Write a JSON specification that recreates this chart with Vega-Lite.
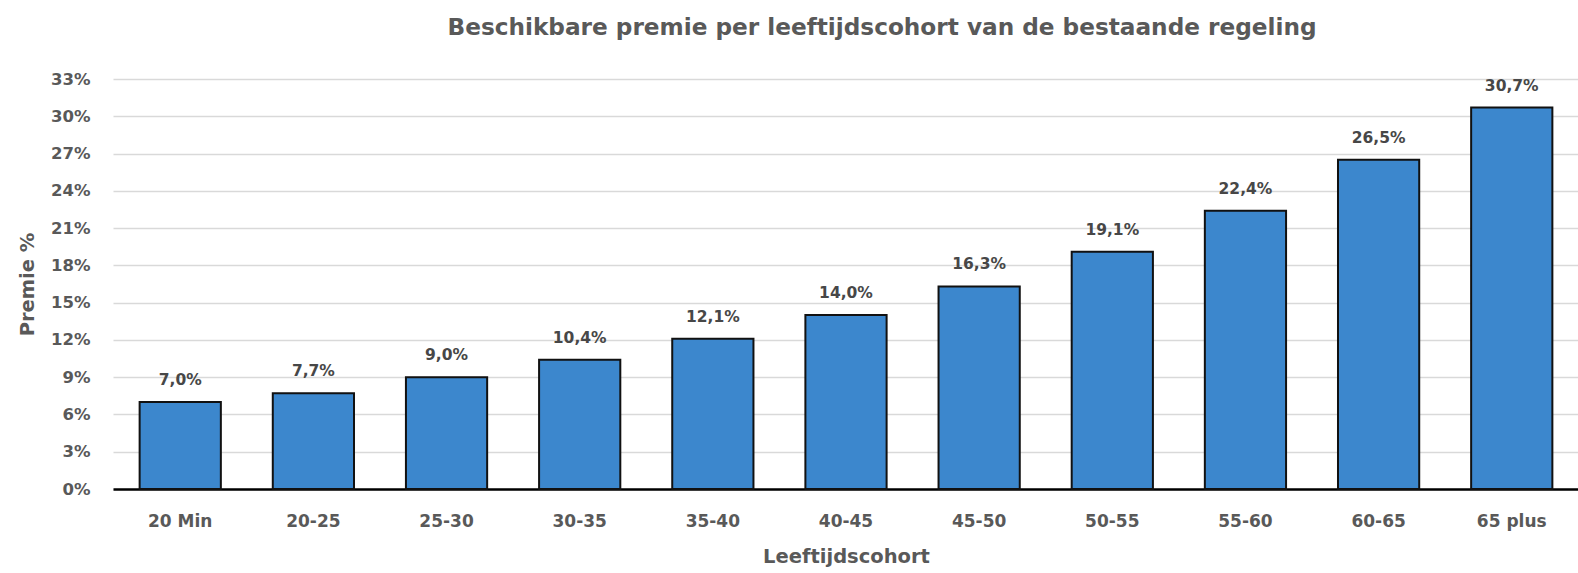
{
  "$schema": "https://vega.github.io/schema/vega-lite/v6.json",
  "autosize": "none",
  "width": 1466,
  "height": 410,
  "padding": {"left": 113, "top": 79, "right": 0, "bottom": 84},
  "background": "white",
  "config": {
    "locale": {"number": {"decimal": ",", "thousands": ".", "grouping": [3], "currency": ["€", ""]}},
    "view": {"stroke": null},
    "font": "DejaVu Sans"
  },
  "title": {
    "text": "Beschikbare premie per leeftijdscohort van de bestaande regeling",
    "font": "DejaVu Sans",
    "fontSize": 23.2,
    "fontWeight": "bold",
    "color": "#595959",
    "anchor": "middle",
    "dx": 36,
    "offset": 31
  },
  "data": {
    "values": [
      {"cohort": "20 Min", "premie": 0.070},
      {"cohort": "20-25", "premie": 0.077},
      {"cohort": "25-30", "premie": 0.090},
      {"cohort": "30-35", "premie": 0.104},
      {"cohort": "35-40", "premie": 0.121},
      {"cohort": "40-45", "premie": 0.140},
      {"cohort": "45-50", "premie": 0.163},
      {"cohort": "50-55", "premie": 0.191},
      {"cohort": "55-60", "premie": 0.224},
      {"cohort": "60-65", "premie": 0.265},
      {"cohort": "65 plus", "premie": 0.307}
    ]
  },
  "encoding": {
    "x": {
      "field": "cohort",
      "type": "nominal",
      "sort": null,
      "scale": {"paddingInner": 0.39, "paddingOuter": 0.2},
      "axis": {
        "title": "Leeftijdscohort",
        "titleFont": "DejaVu Sans",
        "titleFontSize": 19.5,
        "titleFontWeight": "bold",
        "titleColor": "#595959",
        "titlePadding": 18,
        "labelAngle": 0,
        "labelFont": "DejaVu Sans",
        "labelFontSize": 17,
        "labelFontWeight": "bold",
        "labelColor": "#595959",
        "labelPadding": 24,
        "ticks": false,
        "domainColor": "#000000",
        "domainWidth": 2.5,
        "grid": false
      }
    },
    "y": {
      "field": "premie",
      "type": "quantitative",
      "scale": {"domain": [0, 0.33], "nice": false},
      "axis": {
        "title": "Premie %",
        "titleFont": "DejaVu Sans",
        "titleFontSize": 19.5,
        "titleFontWeight": "bold",
        "titleColor": "#595959",
        "titlePadding": 13,
        "values": [0, 0.03, 0.06, 0.09, 0.12, 0.15, 0.18, 0.21, 0.24, 0.27, 0.30, 0.33],
        "format": ".0%",
        "labelFont": "DejaVu Sans",
        "labelFontSize": 16.5,
        "labelFontWeight": "bold",
        "labelColor": "#595959",
        "labelPadding": 23,
        "ticks": false,
        "domain": false,
        "grid": true,
        "gridColor": "#d9d9d9",
        "gridWidth": 1.5
      }
    }
  },
  "layer": [
    {
      "mark": {"type": "bar", "fill": "#3c87cd", "stroke": "#111111", "strokeWidth": 2}
    },
    {
      "mark": {"type": "text", "baseline": "middle", "align": "center", "dy": -22, "font": "DejaVu Sans", "fontSize": 15.5, "fontWeight": "bold", "color": "#474747"},
      "encoding": {
        "text": {"field": "premie", "type": "quantitative", "format": ".1%"}
      }
    }
  ]
}
